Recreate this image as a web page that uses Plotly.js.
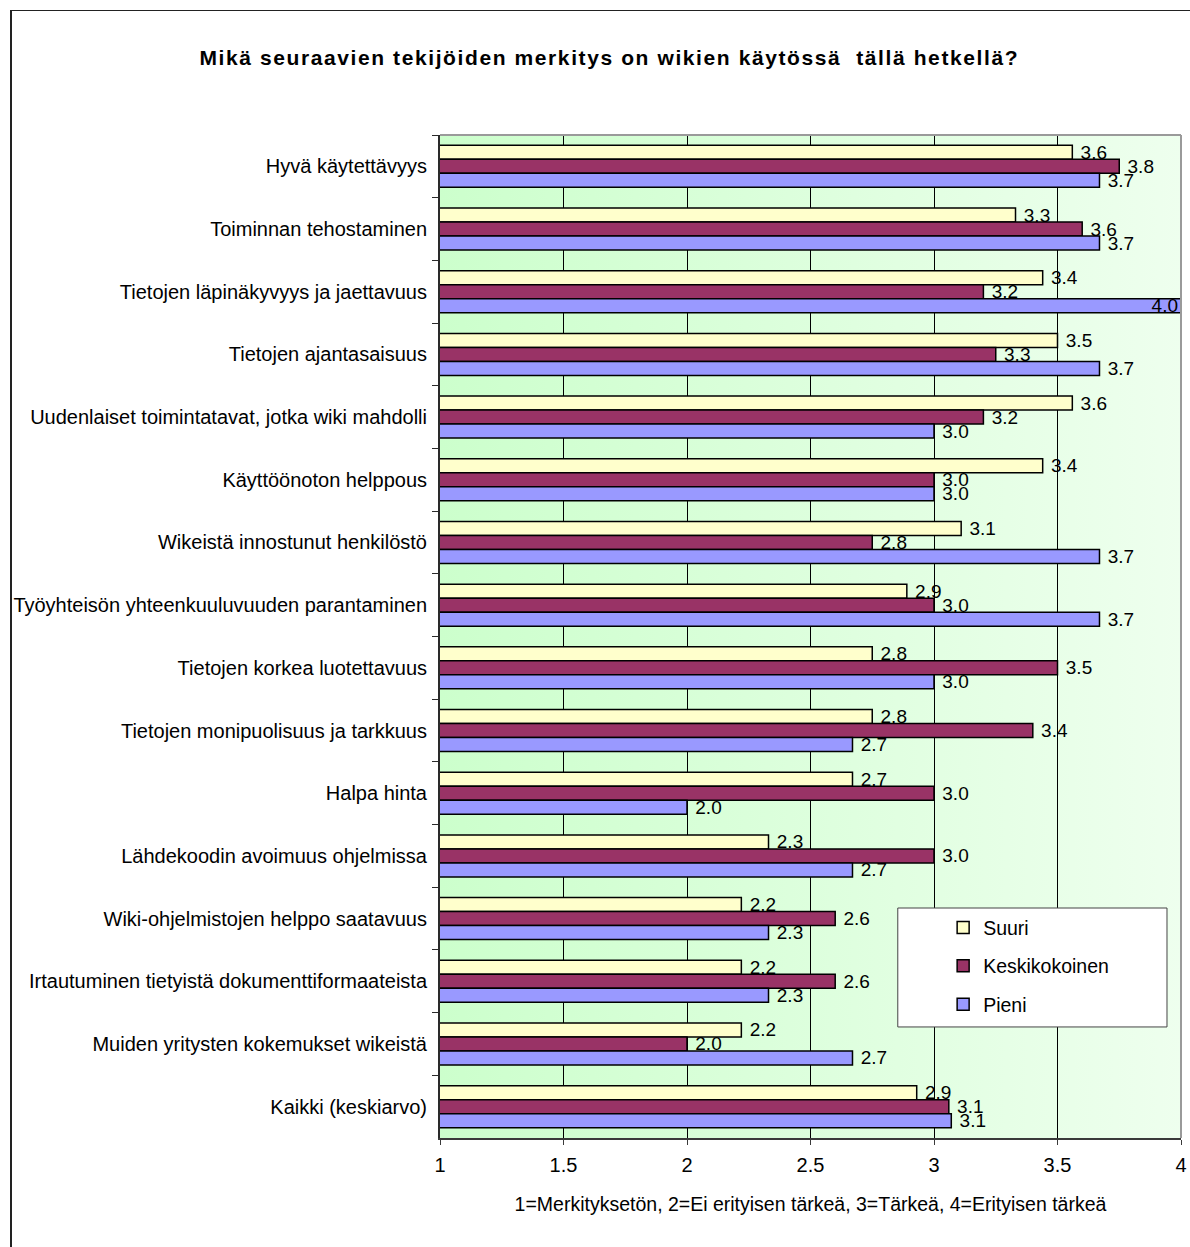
<!DOCTYPE html>
<html>
<head>
<meta charset="utf-8">
<script src="https://cdn.plot.ly/plotly-3.0.1.min.js"></script>
<style>
  html, body { margin: 0; padding: 0; background: #fff; overflow: hidden; }
  #wrap { position: relative; width: 1190px; height: 1247px; }
  #chart { position: absolute; left: 0; top: 0; width: 1190px; height: 1247px; }
  #frame { position: absolute; left: 10px; top: 10px; width: 1300px; height: 1300px;
           border-left: 2px solid #222; border-top: 1px solid #222; pointer-events: none; }
  /* the heading is set with generous tracking */
  #chart .gtitle { letter-spacing: 1.6px; }
</style>
</head>
<body>
<div id="wrap">
  <div id="chart"></div>
  <div id="frame"></div>
</div>
<script>
// Factors, listed top to bottom
const factors = [
  "Hyvä käytettävyys",
  "Toiminnan tehostaminen",
  "Tietojen läpinäkyvyys ja jaettavuus",
  "Tietojen ajantasaisuus",
  "Uudenlaiset toimintatavat, jotka wiki mahdolli",
  "Käyttöönoton helppous",
  "Wikeistä innostunut henkilöstö",
  "Työyhteisön yhteenkuuluvuuden parantaminen",
  "Tietojen korkea luotettavuus",
  "Tietojen monipuolisuus ja tarkkuus",
  "Halpa hinta",
  "Lähdekoodin avoimuus ohjelmissa",
  "Wiki-ohjelmistojen helppo saatavuus",
  "Irtautuminen tietyistä dokumenttiformaateista",
  "Muiden yritysten kokemukset wikeistä",
  "Kaikki (keskiarvo)"
];

// Mean importance (1–4) by company size
const suuri = [3.56, 3.33, 3.44, 3.50, 3.56, 3.44, 3.11, 2.89, 2.75, 2.75, 2.67, 2.33, 2.22, 2.22, 2.22, 2.93];
const keskikokoinen = [3.75, 3.60, 3.20, 3.25, 3.20, 3.00, 2.75, 3.00, 3.50, 3.40, 3.00, 3.00, 2.60, 2.60, 2.00, 3.06];
const pieni = [3.67, 3.67, 4.00, 3.67, 3.00, 3.00, 3.67, 3.67, 3.00, 2.67, 2.00, 2.67, 2.33, 2.33, 2.67, 3.07];

const seriesNames = ["Suuri", "Keskikokoinen", "Pieni"];
const seriesColors = ["#FFFFCC", "#993366", "#9999FF"];
const xTicks = [1, 1.5, 2, 2.5, 3, 3.5, 4];
const X_MIN = 1, X_MAX = 4;

const FONT = "Liberation Sans, Arial, Helvetica, sans-serif";

function barTrace(name, values, color, group) {
  return {
    type: "bar",
    orientation: "h",
    name: name,
    legendgroup: group,
    x: values,
    y: factors,
    marker: { color: color, line: { color: "#000", width: 1.5 } },
    texttemplate: "\u00a0%{x:.1f}",
    // a bar that fills the whole axis carries its label at its own end
    textposition: values.map(v => (v >= X_MAX ? "inside" : "outside")),
    insidetextanchor: "end",
    constraintext: "none",
    cliponaxis: false,
    textfont: { family: FONT, size: 19, color: "#000" },
    insidetextfont: { family: FONT, size: 19, color: "#000" },
    hoverinfo: "x+y+name"
  };
}

const traces = [
  barTrace(seriesNames[0], suuri, seriesColors[0], "g1"),
  barTrace(seriesNames[1], keskikokoinen, seriesColors[1], "g2"),
  barTrace(seriesNames[2], pieni, seriesColors[2], "g3")
];

// Soft green gradient for the plotting area
const gradSvg =
  '<svg xmlns="http://www.w3.org/2000/svg" width="200" height="10" preserveAspectRatio="none">' +
  '<defs><linearGradient id="g" x1="0" y1="0" x2="1" y2="0">' +
  '<stop offset="0" stop-color="#CCFFCC"/><stop offset="1" stop-color="#EEFFEE"/>' +
  '</linearGradient></defs><rect width="200" height="10" fill="url(#g)"/></svg>';
const gradUri = "data:image/svg+xml;charset=utf-8," + encodeURIComponent(gradSvg);

const layout = {
  width: 1190,
  height: 1247,
  autosize: false,
  margin: { l: 440, r: 9, t: 135, b: 109, pad: 0 },
  paper_bgcolor: "rgba(0,0,0,0)",
  plot_bgcolor: "rgba(0,0,0,0)",
  font: { family: FONT, size: 19, color: "#000" },
  title: {
    text: "<b>Mikä seuraavien tekijöiden merkitys on wikien käytössä\u00a0 tällä hetkellä?</b>",
    font: { family: FONT, size: 21, color: "#000" },
    x: 0.512, xanchor: "center", xref: "container",
    y: 0.954, yanchor: "middle", yref: "container"
  },
  barmode: "group",
  bargap: 0.33,
  bargroupgap: 0,
  showlegend: true,
  legend: {
    x: 0.679, xanchor: "left",
    y: 0.229, yanchor: "top",
    bgcolor: "rgba(0,0,0,0)",
    borderwidth: 0,
    tracegroupgap: 10,
    traceorder: "grouped",
    font: { family: FONT, size: 19.5, color: "#000" }
  },
  xaxis: {
    range: [X_MIN, X_MAX],
    tickvals: xTicks,
    ticktext: xTicks.map(String),
    showgrid: true,
    gridcolor: "#000",
    gridwidth: 1,
    zeroline: false,
    showline: true,
    linecolor: "#3a3a3a",
    linewidth: 2,
    ticks: "outside",
    ticklen: 5,
    tickcolor: "#3a3a3a",
    tickfont: { family: FONT, size: 20, color: "#000" },
    ticklabelstandoff: 3,
    fixedrange: true,
    title: {
      text: "1=Merkityksetön, 2=Ei erityisen tärkeä, 3=Tärkeä, 4=Erityisen tärkeä",
      font: { family: FONT, size: 19.5, color: "#000" },
      standoff: 22
    }
  },
  yaxis: {
    type: "category",
    categoryorder: "array",
    categoryarray: factors,
    autorange: "reversed",
    tickson: "boundaries",
    showgrid: false,
    zeroline: false,
    showline: true,
    linecolor: "#2a2a2a",
    linewidth: 2,
    ticks: "outside",
    ticklen: 6,
    tickcolor: "#2a2a2a",
    tickfont: { family: FONT, size: 20, color: "#000" },
    ticklabelstandoff: 7,
    fixedrange: true
  },
  images: [{
    source: gradUri,
    xref: "paper", yref: "paper",
    x: 0, y: 1, sizex: 1, sizey: 1,
    xanchor: "left", yanchor: "top",
    sizing: "stretch",
    layer: "below"
  }],
  shapes: [
    // gray frame on the top and right of the plotting area
    { type: "line", xref: "paper", yref: "paper", x0: 0, x1: 1, y0: 1, y1: 1,
      line: { color: "#9a9a9a", width: 2 }, layer: "above" },
    { type: "line", xref: "paper", yref: "paper", x0: 1, x1: 1, y0: 0, y1: 1,
      line: { color: "#9a9a9a", width: 2 }, layer: "above" },
    // legend box
    { type: "rect", xref: "paper", yref: "paper",
      x0: 0.6178, x1: 0.9811, y0: 0.1107, y1: 0.2293,
      fillcolor: "#fff", line: { color: "#444", width: 1 }, layer: "above" }
  ]
};

Plotly.newPlot("chart", traces, layout, { displayModeBar: false, staticPlot: true });
</script>
</body>
</html>
